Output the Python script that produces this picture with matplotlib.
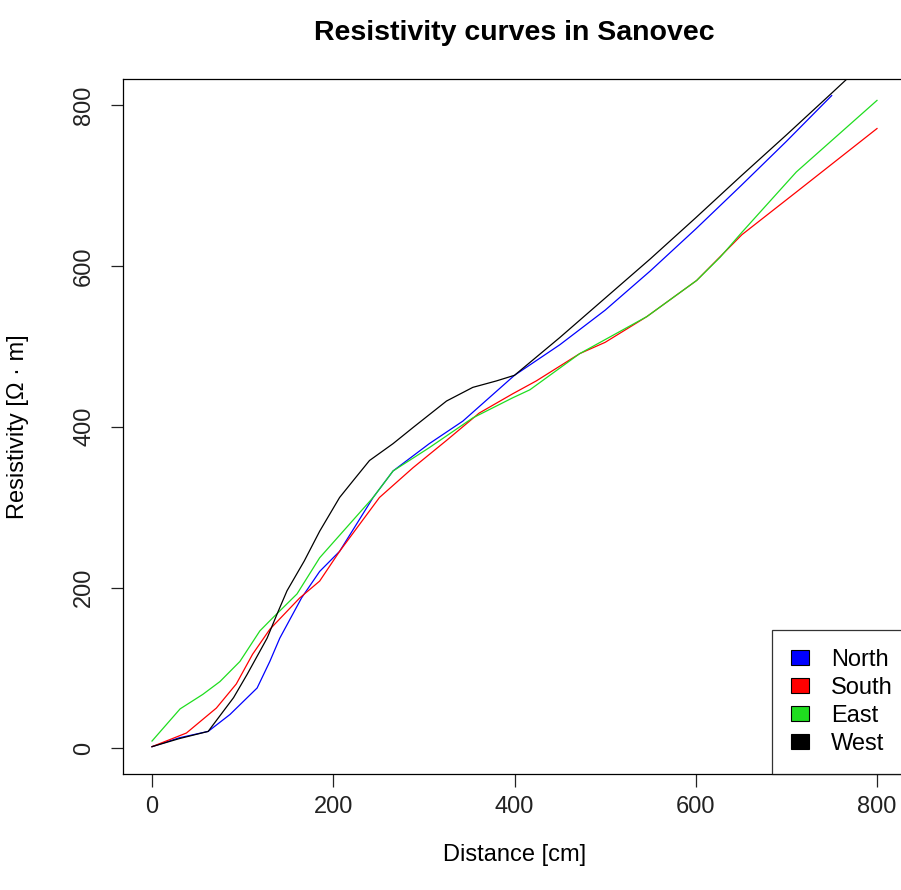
import matplotlib
matplotlib.use("Agg")
import matplotlib.pyplot as plt
from matplotlib.patches import Patch

plt.rcParams['font.family'] = ['Liberation Sans', 'DejaVu Sans']

# resistivity readings
north_x = [0, 30, 62, 86, 116, 130, 141, 165, 185, 207, 244, 266, 306, 343, 372, 400,
           450, 500, 550, 600, 650, 700, 750]
north_y = [2, 13, 21, 42, 75, 108, 137, 187, 220, 245, 312, 345, 379, 407, 436, 464,
           502, 545, 594, 646, 700, 755, 812]

south_x = [0, 38, 71, 93, 111, 130, 163, 185, 207, 251, 288, 325, 361, 398, 424, 472,
           500, 546, 601, 651, 711, 800]
south_y = [2, 19, 50, 80, 117, 148, 187, 208, 245, 312, 349, 383, 417, 441, 457, 491,
           505, 537, 582, 639, 692, 771]

east_x = [0, 31, 56, 75, 97, 119, 133, 160, 185, 244, 266, 306, 354, 398, 417, 472,
          546, 601, 627, 651, 711, 800]
east_y = [9, 49, 67, 83, 108, 146, 162, 192, 237, 312, 345, 374, 411, 436, 446, 491,
          537, 582, 611, 642, 717, 806]

west_x = [0, 30, 62, 90, 105, 127, 138, 149, 168, 185, 207, 222, 240, 266, 288, 325,
          354, 380, 400, 450, 500, 550, 600, 650, 700, 750, 790]
west_y = [2, 12, 21, 63, 92, 137, 167, 196, 233, 270, 312, 333, 358, 379, 399, 432,
          449, 457, 464, 511, 560, 609, 660, 712, 763, 815, 857]

names = ['North', 'South', 'East', 'West']
colors = ['#0000ff', '#ff0000', '#1fdd1f', '#000000']

fig = plt.figure(figsize=(9.01, 8.90), dpi=100)
ax = fig.add_axes([123 / 901, 1 - 774 / 890, 783 / 901, 694.5 / 890])

series = [(north_x, north_y), (south_x, south_y), (east_x, east_y), (west_x, west_y)]
for (xs, ys), c in zip(series, colors):
    ax.plot(xs, ys, color=c, lw=0.9)

ax.set_xlim(-32, 832)
ax.set_ylim(-32, 832)
ax.set_xticks([0, 200, 400, 600, 800])
ax.set_yticks([0, 200, 400, 600, 800])
for s in ax.spines.values():
    s.set_linewidth(0.9)
ax.tick_params(direction='out', length=9, width=0.9, labelsize=17, colors='#222222')
ax.tick_params(axis='x', pad=7)
ax.tick_params(axis='y', pad=11)
for lab in ax.get_yticklabels():
    lab.set_rotation(90)
    lab.set_va('center')

fig.text(514.5 / 901, 1 - 33 / 890, 'Resistivity curves in Sanovec', ha='center',
         va='center', fontsize=20.5, fontweight='bold')
fig.text(514.5 / 901, 1 - 855 / 890, 'Distance [cm]', ha='center', va='center',
         fontsize=17)
fig.text(18 / 901, 1 - 427 / 890, 'Resistivity [\u03a9 \u00b7 m]', ha='center',
         va='center', rotation=90, fontsize=17)

handles = [Patch(facecolor=c, edgecolor='black', lw=0.8) for c in colors]
leg = ax.legend(handles, names, loc='lower right', bbox_to_anchor=(1 + 6 / 783, 0),
                borderaxespad=0, fontsize=17, frameon=True, fancybox=False,
                borderpad=0.8, labelspacing=0.26, handlelength=0.8,
                handleheight=0.6, handletextpad=0.93)
leg.get_frame().set_edgecolor('black')
leg.get_frame().set_linewidth(0.9)

fig.savefig('out.png', dpi=100)
